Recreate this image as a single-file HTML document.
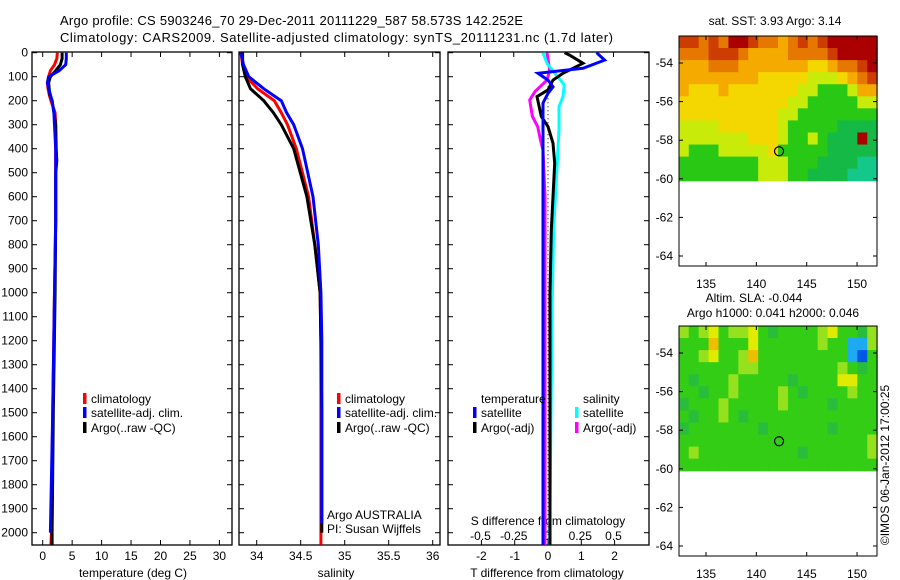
<!DOCTYPE html>
<html><head><meta charset="utf-8"><style>
html,body{margin:0;padding:0;background:#fff}
svg{display:block;font-family:"Liberation Sans",sans-serif}
text{fill:#000}
</style></head><body>
<svg id="c" width="900" height="580" viewBox="0 0 900 580" xmlns="http://www.w3.org/2000/svg">
<text x="60" y="25" font-size="13" textLength="463">Argo profile: CS 5903246_70 29-Dec-2011 20111229_587 58.573S 142.252E</text>
<text x="60" y="42" font-size="13" textLength="553">Climatology: CARS2009. Satellite-adjusted climatology: synTS_20111231.nc (1.7d later)</text>
<g id="g"></g>
</svg>
<script>
// ---------- data ----------
const depthTicks=[0,100,200,300,400,500,600,700,800,900,1000,1100,1200,1300,1400,1500,1600,1700,1800,1900,2000];
const tTicks=[0,5,10,15,20,25,30];
const sTicks=[34,34.5,35,35.5,36];
const dTTicks=[-2,-1,0,1,2];
const dSTicks=[-0.5,-0.25,0,0.25,0.5];
const dSTickLabels=["-0.5","-0.25","0","0.25","0.5"];
const lonTicks=[135,140,145,150];
const latTicks=[-54,-56,-58,-60,-62,-64];

const tDepth=[0,25,50,75,100,125,150,175,200,250,300,400,450,500,700,1000,1500,2000,2050];
const tClim=[2.5,2.4,2.0,1.3,1.0,0.8,0.9,1.1,1.4,2.1,2.2,2.2,2.2,2.2,2.2,2.0,1.7,1.5,1.4];
const tSat=[4.0,4.0,3.9,2.8,1.0,0.8,1.0,1.3,1.6,1.9,2.0,2.2,2.2,2.2,2.2,2.0,1.7,1.3,1.3];
const tArgo=[3.3,3.3,3.0,2.2,1.3,1.0,1.1,1.2,1.6,1.9,2.2,2.3,2.4,2.2,2.2,2.1,1.8,1.6,1.6];

const sDepth=[0,50,100,150,200,250,300,400,600,800,1000,1200,1500,2000,2050];
const sClim=[33.82,33.84,33.88,34.01,34.20,34.28,34.35,34.45,34.59,34.66,34.72,34.73,34.73,34.73,34.73];
const sSat=[33.82,33.85,33.91,34.08,34.28,34.34,34.42,34.52,34.64,34.70,34.73,34.74,34.74,34.74,34.74];
const sArgo=[33.84,33.84,33.87,33.93,34.08,34.19,34.28,34.42,34.57,34.66,34.72,34.73,34.74,34.74,34.74];

const dDepthB=[0,31,65,86,114,142,169,210,400,1000,2000,2050];
const dTSat=[1.46,1.7,1.05,-0.3,0,0.15,0,-0.15,-0.15,-0.15,-0.15,-0.15];
const dDepthK=[0,10,44,86,114,155,183,266,308,377,460,600,740,1000,2000,2050];
const dTArgo=[0.5,0.65,1.05,0.45,0.15,0,-0.33,-0.2,0,0.15,0.2,0.15,0.1,0.06,0.06,0.06];
const dDepthC=[0,44,86,134,183,225,322,530,740,1017,2000,2050];
const dSSat=[-0.03,0,0.06,0.13,0.12,0.09,0.09,0.07,0.05,0.04,0.02,0.02];
const dDepthM=[0,72,114,162,197,266,308,363,405,600,2000,2050];
const dSArgo=[0,0.02,0,-0.09,-0.13,-0.11,-0.07,-0.05,-0.03,-0.015,-0.015,-0.015];

const sstGrid=[
[9,9,8,9,8,10,10,9,8,8,7,8,9,8,9,10,10,10,10,10],
[8,8,8,9,9,9,8,7,7,7,7,8,8,8,8,9,10,10,10,10],
[7,7,7,8,8,8,7,7,7,7,7,7,7,6,6,7,8,8,9,10],
[7,7,7,7,7,7,7,7,6,6,6,6,6,5,5,5,6,7,8,9],
[7,6,6,6,7,6,6,6,6,6,6,6,5,5,4,4,4,5,7,7],
[6,6,6,6,6,6,6,6,6,6,6,5,5,4,4,4,4,4,5,5],
[6,6,6,6,6,6,6,6,6,6,5,5,4,4,4,4,4,4,4,4],
[5,5,5,5,6,6,6,6,6,6,5,4,4,4,4,4,3,3,3,3],
[5,5,5,5,5,5,5,6,6,6,5,4,4,5,4,3,3,3,10,3],
[5,4,4,4,5,5,5,5,5,6,4,4,4,4,4,3,3,3,3,3],
[4,4,4,4,4,4,4,4,5,5,5,4,4,4,3,3,3,3,2,2],
[4,4,4,4,4,4,4,4,5,5,5,4,4,3,3,3,3,2,2,2]];
const slaGrid=[
[1,0,1,2,0,1,1,2,0,-1,0,0,0,0,1,2,0,0,-1,1],
[0,0,0,3,0,0,0,2,0,0,0,0,0,0,1,0,0,-2,-2,1],
[0,0,1,2,0,0,1,3,0,0,0,0,0,0,0,0,0,-2,-3,0],
[0,0,0,0,0,0,1,1,0,0,0,0,0,0,0,0,1,0,-1,0],
[0,-1,0,0,0,1,0,0,0,0,0,-1,0,0,0,0,2,2,0,0],
[0,0,-1,0,0,1,0,0,0,0,1,0,-1,0,0,0,0,1,0,0],
[-1,0,0,0,1,0,0,0,0,0,1,0,0,0,0,-1,0,0,0,0],
[0,-1,0,0,1,0,-1,0,0,0,0,0,0,0,0,0,0,0,0,0],
[-1,0,0,0,0,0,0,0,-1,0,0,0,0,0,0,-1,0,0,0,0],
[0,0,0,0,0,0,0,0,0,0,0,0,0,0,0,0,0,0,0,1],
[0,1,0,0,0,0,0,0,0,0,0,0,-1,0,0,0,0,0,0,1],
[0,0,0,0,0,0,0,0,0,0,0,0,0,0,0,0,0,0,0,0]];
const gridLon0=132.3, gridLon1=152.0, gridLat0=-52.6, gridLat1=-60.1;
const argoLon=142.252, argoLat=-58.573;

// ---------- helpers ----------
const NS="http://www.w3.org/2000/svg";
const G=document.getElementById('g');
function mk(tag,attrs,parent){const e=document.createElementNS(NS,tag);for(const k in attrs)e.setAttribute(k,attrs[k]);(parent||G).appendChild(e);return e;}
function txt(x,y,s,anchor,size,parent){const e=mk('text',{x:x,y:y,'font-size':size||12,'text-anchor':anchor||'start'},parent);e.textContent=s;return e;}
const yD=d=>52.7+d*0.24;
const xT=t=>42.7+t*5.89;
const xS=s=>256.7+(s-34)*88;
const xDT=t=>548+t*33.3;
const xDS=s=>547+s*133;
const xLon=l=>706+(l-135)*10.07;
const yLat1=l=>63+(-54-l)*19.3;
const yLat2=l=>353+(-54-l)*19.3;
const PT=52, PB=545;

function panel(x0,x1,name){
  const r=mk('rect',{x:x0,y:PT,width:x1-x0,height:PB-PT,fill:'none',stroke:'#000','stroke-width':1.3});
  
  
  depthTicks.forEach(d=>{mk('line',{x1:x0,x2:x0+5,y1:yD(d),y2:yD(d),stroke:'#000'});mk('line',{x1:x1,x2:x1-5,y1:yD(d),y2:yD(d),stroke:'#000'});});
}
function step(xs,ds,fx,color,name,w){
  let p=[];
  for(let i=0;i<ds.length;i++){const x=fx(xs[i]).toFixed(1);p.push(x+','+yD(ds[i]).toFixed(1));}
  const e=mk('polyline',{points:p.join(' '),fill:'none',stroke:color,'stroke-width':w||3,'stroke-linejoin':'miter'});
  
  
}
function legend(x,y,color,label){
  const r=mk('rect',{x:x,y:y-10,width:3.5,height:11,fill:color});
  
  
  const t=txt(x+8,y,label);
  
  
}

// ---------- panel 1: temperature ----------
panel(32,232,'temperature-panel');
depthTicks.forEach(d=>{const t=txt(28,yD(d)+4,String(d),'end');});
tTicks.forEach(v=>{mk('line',{x1:xT(v),x2:xT(v),y1:PT,y2:PT+5,stroke:'#000'});mk('line',{x1:xT(v),x2:xT(v),y1:PB,y2:PB-5,stroke:'#000'});const t=txt(xT(v),560,String(v),'middle');});
let t1=txt(133,577,'temperature (deg C)','middle');
step(tClim,tDepth,xT,'#f00','temp-climatology-line');
step(tArgo,tDepth,xT,'#000','temp-argo-line');
step(tSat,tDepth.slice(0,-1),xT,'#00f','temp-satellite-line');
legend(83,403,'#f00','climatology');legend(83,417,'#00f','satellite-adj. clim.');legend(83,432,'#000','Argo(..raw -QC)');

// ---------- panel 2: salinity ----------
panel(239,440,'salinity-panel');
sTicks.forEach(v=>{mk('line',{x1:xS(v),x2:xS(v),y1:PT,y2:PT+5,stroke:'#000'});mk('line',{x1:xS(v),x2:xS(v),y1:PB,y2:PB-5,stroke:'#000'});const t=txt(xS(v),560,String(v),'middle');});
let t2=txt(336,577,'salinity','middle');
step(sClim,sDepth,xS,'#f00','sal-climatology-line');
step(sArgo,sDepth.slice(0,-1),xS,'#000','sal-argo-line');
step(sSat,sDepth.slice(0,-2).concat([1960]),xS,'#00f','sal-satellite-line');
legend(337,403,'#f00','climatology');legend(337,417,'#00f','satellite-adj. clim.');legend(337,432,'#000','Argo(..raw -QC)');
let p1=txt(327,519,'Argo AUSTRALIA');
let p2=txt(327,533,'PI: Susan Wijffels');

// ---------- panel 3: differences ----------
panel(448,649,'difference-panel');
mk('line',{x1:548,x2:548,y1:yD(140),y2:yD(2050),stroke:'#000','stroke-dasharray':'1,3'});
dTTicks.forEach(v=>{mk('line',{x1:xDT(v),x2:xDT(v),y1:PB,y2:PB-5,stroke:'#000'});const t=txt(xDT(v),560,String(v),'middle');});
dSTicks.forEach((v,i)=>{mk('line',{x1:xDS(v),x2:xDS(v),y1:PT,y2:PT+5,stroke:'#000'});const t=txt(xDS(v),540,dSTickLabels[i],'middle');});
let t3=txt(547,577,'T difference from climatology','middle');
let t4=txt(548,525,'S difference from climatology','middle');
step(dSArgo,dDepthM,xDS,'#f0f','sdiff-argo-line');
step(dSSat,dDepthC,xDS,'#0ff','sdiff-satellite-line');
step(dTArgo,dDepthK,xDT,'#000','tdiff-argo-line');
step(dTSat,dDepthB,xDT,'#00f','tdiff-satellite-line');
let lt=txt(481,403,'temperature');
let ls=txt(583,403,'salinity');
legend(473,417,'#00f','satellite');legend(473,432,'#000','Argo(-adj)');
legend(575,417,'#0ff','satellite');legend(575,432,'#f0f','Argo(-adj)');

// ---------- maps ----------
function lerpColor(stops,v){
  if(v<=stops[0][0])return stops[0][1];
  for(let i=1;i<stops.length;i++){if(v<=stops[i][0]){const a=stops[i-1],b=stops[i],f=(v-a[0])/(b[0]-a[0]);
    const c=a[1].map((x,k)=>Math.round(x+(b[1][k]-x)*f));return c;}}
  return stops[stops.length-1][1];
}
const sstStops=[[2,[20,200,140]],[3,[20,185,70]],[4,[40,200,20]],[5,[200,235,10]],[6,[245,215,0]],[7,[245,170,0]],[8,[230,120,0]],[9,[205,60,0]],[10,[170,0,0]]];
const slaStops=[[-3,[0,90,230]],[-2,[30,170,240]],[-1,[40,190,60]],[0,[50,205,20]],[1,[150,225,30]],[2,[225,235,0]],[3,[240,190,0]]];
function map(grid,stops,yLat,yTop,name,cellName){
  const nx=grid[0].length,ny=grid.length;
  const x0=xLon(gridLon0),x1=xLon(gridLon1),ya=yLat(gridLat0),yb=yLat(gridLat1);
  const cw=(x1-x0)/nx,ch=(yb-ya)/ny;
  grid.forEach((row,r)=>row.forEach((v,c)=>{
    const col=lerpColor(stops,v);
    const e=mk('rect',{x:(x0+c*cw).toFixed(2),y:(ya+r*ch).toFixed(2),width:(cw+0.6).toFixed(2),height:(ch+0.6).toFixed(2),fill:'rgb('+col.join(',')+')'});
    
    
  }));
  const fr=mk('rect',{x:679,y:yTop,width:198,height:230,fill:'none',stroke:'#000','stroke-width':1});
  
  
  latTicks.forEach(l=>{const y=yLat(l);mk('line',{x1:679,x2:683,y1:y,y2:y,stroke:'#000'});mk('line',{x1:877,x2:873,y1:y,y2:y,stroke:'#000'});
    const t=txt(673,y+4,String(l),'end');});
  lonTicks.forEach(l=>{const x=xLon(l);mk('line',{x1:x,x2:x,y1:yTop,y2:yTop+4,stroke:'#000'});mk('line',{x1:x,x2:x,y1:yTop+230,y2:yTop+226,stroke:'#000'});
    const t=txt(x,yTop+252,String(l),'middle');});
  const cc=mk('circle',{cx:xLon(argoLon),cy:yLat(argoLat),r:4.5,fill:'none',stroke:'#000','stroke-width':1.2});
  
  
}
map(sstGrid,sstStops,yLat1,36,'sst-map','sst-cell');
map(slaGrid,slaStops,yLat2,326,'sla-map','sla-cell');
let m1=txt(775,25,'sat. SST: 3.93 Argo: 3.14','middle');
let m2=txt(754,302,'Altim. SLA: -0.044','middle');
let m3=txt(773,317,'Argo h1000: 0.041 h2000: 0.046','middle');
let cr=txt(0,0,'©IMOS 06-Jan-2012 17:00:25','middle');
cr.setAttribute('transform','translate(889,465) rotate(-90)');


</script>
</body></html>
